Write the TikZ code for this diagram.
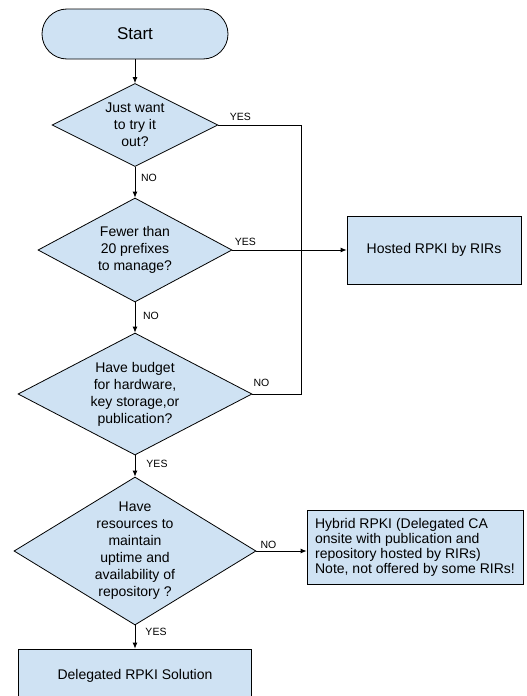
\documentclass[tikz,border=0pt]{standalone}
\usepackage{fontspec}
\setmainfont{Liberation Sans}
\usetikzlibrary{shapes.geometric,arrows.meta}
\definecolor{boxblue}{HTML}{CFE2F3}
\begin{document}
\begin{tikzpicture}[x=1pt, y=-1pt, line width=0.8pt,
    every node/.style = {font=\fontsize{14}{17}\selectfont, align=center},
    block/.style = {draw, fill=boxblue, inner sep=0pt},
    decision/.style = {block, diamond},
    answer/.style = {font=\fontsize{10.5}{12}\selectfont, inner sep=0pt},
    arr/.style = {-{Latex[length=6pt,width=5pt]}}]

  \clip (0,0) rectangle (527,696);

  \node[block, rounded corners=25pt, minimum width=186pt, minimum height=50pt,
        font=\fontsize{17}{20}\selectfont] (start) at (135,34) {Start};

  \node[decision, minimum width=166pt, minimum height=83pt] (try) at (135,125) {};
  \node (trytext) at (try) {Just want\\to try it\\out?};
  \node[decision, minimum width=194pt, minimum height=104pt] (few) at (135,250) {};
  \node (fewtext) at (few) {Fewer than\\20 prefixes\\to manage?};
  \node[decision, minimum width=234pt, minimum height=122pt] (budget) at (135,394) {};
  \node (budgettext) at (budget) {Have budget\\for hardware,\\key storage,or\\publication?};
  \node[decision, minimum width=242pt, minimum height=148pt] (res) at (135,551) {};
  \node (restext) at (res) {Have\\resources to\\maintain\\uptime and\\availability of\\repository ?};

  \node[block, minimum width=174pt, minimum height=68pt] (hosted) at (434,250) {Hosted RPKI by RIRs};
  \node[block, minimum width=216pt, minimum height=74pt, align=left,
        font=\fontsize{14}{15}\selectfont] (hybrid) at (415,547)
    {Hybrid RPKI (Delegated CA\\onsite with publication and\\repository hosted by RIRs)\\Note, not offered by some RIRs!};
  \node[block, minimum width=233pt, minimum height=54pt] (deleg) at (135,676) {Delegated RPKI Solution};

  \coordinate (join) at (301,250);

  % main line
  \draw[arr] (start) -- (try);
  \draw[arr] (try.south) -- (few.north);
  \draw[arr] (few.south) -- (budget.north);
  \draw[arr] (budget.south) -- (res.north);
  \draw[arr] (res.south) -- (deleg.north);

  % side branches
  \draw (try.east) -| (join);
  \draw (budget.east) -| (join);
  \draw[arr] (few.east) -- (hosted.west);
  \draw[arr] (res.east) -- (res.east -| hybrid.west);

  \node[answer] (yes1) at ([xshift=22pt,yshift=8pt]try.east) {YES};
  \node[answer] (no1) at ([xshift=14pt,yshift=-11pt]try.south) {NO};
  \node[answer] (yes2) at ([xshift=13pt,yshift=8pt]few.east) {YES};
  \node[answer] (no2) at ([xshift=16pt,yshift=-13pt]few.south) {NO};
  \node[answer] (no3) at ([xshift=9pt,yshift=11pt]budget.east) {NO};
  \node[answer] (yes3) at ([xshift=22pt,yshift=-8pt]budget.south) {YES};
  \node[answer] (no4) at ([xshift=12pt,yshift=6pt]res.east) {NO};
  \node[answer] (yes4) at ([xshift=21pt,yshift=-6pt]res.south) {YES};

\end{tikzpicture}
\end{document}
